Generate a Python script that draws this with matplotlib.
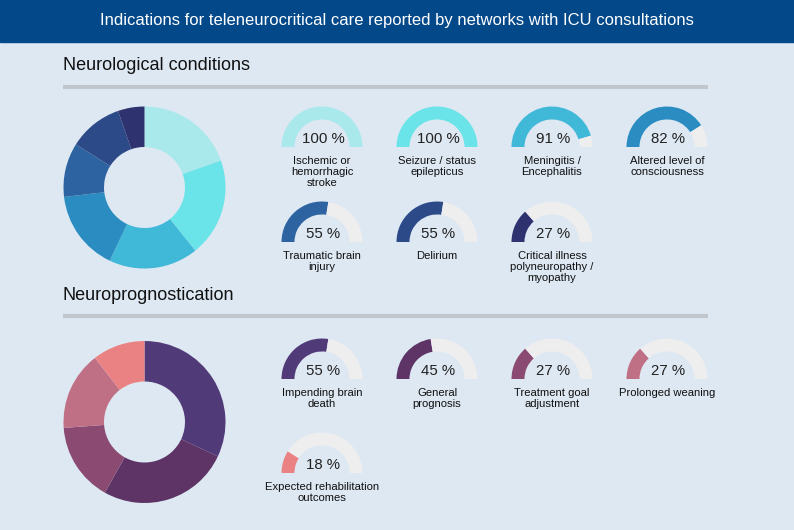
import matplotlib
matplotlib.use("Agg")
import matplotlib.pyplot as plt

plt.rcParams["font.family"] = ["Liberation Sans", "DejaVu Sans"]

W, H = 794, 530

title = "Indications for teleneurocritical care reported by networks with ICU consultations"

neuro_title = "Neurological conditions"
neuro_labels = ["Ischemic or\nhemorrhagic\nstroke", "Seizure / status\nepilepticus",
                "Meningitis /\nEncephalitis", "Altered level of\nconsciousness",
                "Traumatic brain\ninjury", "Delirium",
                "Critical illness\npolyneuropathy /\nmyopathy"]
neuro_values = [100, 100, 91, 82, 55, 55, 27]
neuro_colors = ["#a9e9ec", "#6ae4e8", "#40b8d8", "#2a8cc0", "#2c63a0", "#2d4a88", "#2e326f"]

prog_title = "Neuroprognostication"
prog_labels = ["Impending brain\ndeath", "General\nprognosis", "Treatment goal\nadjustment",
               "Prolonged weaning", "Expected rehabilitation\noutcomes"]
prog_values = [55, 45, 27, 27, 18]
prog_colors = ["#513a78", "#5e3366", "#8a4a72", "#c07085", "#ea8283"]

BG = "#dde8f3"
TRACK = "#eeeeef"

fig = plt.figure(figsize=(W / 100, H / 100), dpi=100)
fig.patch.set_facecolor(BG)

# overlay in pixel coordinates for text and rules
ov = fig.add_axes([0, 0, 1, 1])
ov.set_xlim(0, W)
ov.set_ylim(H, 0)
ov.axis("off")
ov.axhspan(0, 42, color="#03498a", zorder=0)
ov.text(W / 2, 20, title, color="white", fontsize=12, ha="center", va="center")


def pix_axes(cx, cy, r):
    return fig.add_axes([(cx - r) / W, 1 - (cy + r) / H, 2 * r / W, 2 * r / H])


def donut(cx, cy, values, colors):
    ax = pix_axes(cx, cy, 81)
    ax.pie(values, colors=colors, startangle=90, counterclock=False,
           wedgeprops=dict(width=0.5, linewidth=0))
    ax.set_xlim(-1, 1)
    ax.set_ylim(-1, 1)
    ax.set_aspect("equal")
    ax.axis("off")


def gauge(cx, by, value, color, label):
    r = 40.5
    ax = pix_axes(cx, by, r)
    ax.pie([value, 100 - value, 100], colors=[color, TRACK, "none"], startangle=180,
           counterclock=False, wedgeprops=dict(width=0.32, linewidth=0))
    ax.set_xlim(-1, 1)
    ax.set_ylim(-1, 1)
    ax.set_aspect("equal")
    ax.axis("off")
    ov.text(cx + 1, by - 4, f"{value} %", fontsize=10.8, color="#222222",
            ha="center", va="baseline")
    ov.text(cx, by + 9, label, fontsize=8.1, color="#111111", ha="center", va="top",
            linespacing=1.1)


def section(ty, ly, name):
    ov.text(63, ty, name, fontsize=13, color="#111111", ha="left", va="center")
    ov.plot([63, 708], [ly, ly], color="#c1c5cc", lw=3, solid_capstyle="butt")


cols = [322, 437, 552, 667]

section(66, 87, neuro_title)
donut(144.5, 187.5, neuro_values, neuro_colors)
rows1 = [147, 242]
for i, (v, lab) in enumerate(zip(neuro_values, neuro_labels)):
    gauge(cols[i % 4], rows1[i // 4], v, neuro_colors[i], lab)

section(295, 316, prog_title)
donut(144.5, 422, prog_values, prog_colors)
rows2 = [379, 473]
for i, (v, lab) in enumerate(zip(prog_values, prog_labels)):
    gauge(cols[i % 4], rows2[i // 4], v, prog_colors[i], lab)

fig.savefig("out.png", dpi=100, facecolor=BG)
